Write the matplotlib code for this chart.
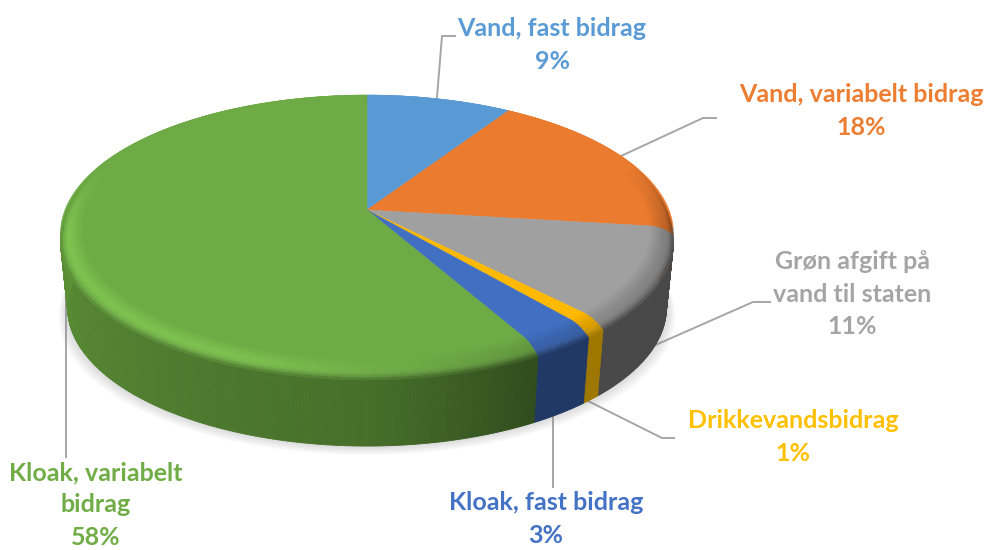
import numpy as np
import matplotlib
matplotlib.use("Agg")
import matplotlib.pyplot as plt
from matplotlib.collections import PolyCollection
from matplotlib.colors import to_rgb

# shares, clockwise from 12 o'clock
names = ["Vand, fast bidrag", "Vand, variabelt bidrag", "Grøn afgift på\nvand til staten",
         "Drikkevandsbidrag", "Kloak, fast bidrag", "Kloak, variabelt\nbidrag"]
shares = [9, 18, 11, 1, 3, 58]
top_colors = ["#5A9AD4", "#EB7B2E", "#A0A0A0", "#FFB900", "#4170C2", "#6EAA46"]
side_colors = ["#2E4F6C", "#6E3A17", "#484848", "#9E7700", "#1F3864", "#2F4A1C"]
text_colors = ["#5B9BD5", "#ED7D31", "#A5A5A5", "#FFC000", "#4472C4", "#70AD47"]
label_pos = [(552, 45), (861, 111), (852, 294), (793, 437), (546, 519), (96, 505)]

# leader lines in picture pixels
leaders = [
    [(437, 97), (442, 36), (455, 36)],
    [(621, 156), (703, 118), (716, 118)],
    [(651, 347), (753, 302), (770, 302)],
    [(588, 401), (662, 438), (674, 438)],
    [(553, 417), (553, 487)],
    [(66, 300), (66, 457)],
]

# projection of the disc
CX, CY = 367, 210
AX, AY = 302, 134.5
K = 0.17
DEPTH = 74
SHRINK = 0.977
BEVEL = 0.075
RIM_DROP = 8


def project(theta, r=1.0, drop=0.0, xs=1.0):
    t = np.radians(theta)
    X = r * np.sin(t)
    Y = r * np.cos(t)
    w = 1 + K * Y
    return np.column_stack([CX + xs * AX * X / w, CY - AY * Y / w + drop])


def front(theta):
    return np.clip((0.35 - np.cos(np.radians(theta))) / 0.5, 0, 1)


def scale(col, m):
    return tuple(np.clip(np.array(to_rgb(col)) * m, 0, 1))


def mix(a, b, t):
    return tuple(np.array(a) * (1 - t) + np.array(b) * t)


def wall_light(theta):
    return np.interp(theta, [90, 150, 180, 270], [1, 1, 1.5, 1.95])


fig = plt.figure(figsize=(9.88, 5.5), dpi=100)
ax = fig.add_axes([0, 0, 1, 1])
ax.set_xlim(0, 988)
ax.set_ylim(550, 0)
ax.axis("off")

edges = np.concatenate([[0], np.cumsum(shares)]) * 3.6

# soft shadow under the disc
ring = np.linspace(90, 285, 200)
for grow in np.linspace(15, 1, 12):
    base = project(ring, 1.0, DEPTH, SHRINK)
    base[:, 0] = CX + (base[:, 0] - CX) * (1 + grow / 500)
    base[:, 1] = base[:, 1] + grow * 0.6
    ax.fill(base[:, 0], base[:, 1], color="#7F7F7F", alpha=0.025, lw=0, zorder=1)

# side wall, one thin quad per step
for i, col in enumerate(side_colors):
    a, b = edges[i], edges[i + 1]
    a, b = max(a, 85), min(b, 280)
    if b <= a:
        continue
    th = np.linspace(a, b, max(int(b - a) * 2, 2) + 1)
    top = project(th, 1.0, RIM_DROP * front(th))
    bot = project(th, 1.0, DEPTH, SHRINK)
    quads, cols = [], []
    for j in range(len(th) - 1):
        quads.append([top[j], top[j + 1], bot[j + 1], bot[j]])
        cols.append(scale(col, wall_light(0.5 * (th[j] + th[j + 1]))))
    ax.add_collection(PolyCollection(quads, facecolors=cols, edgecolors=cols, linewidths=0.6, zorder=2))

# flat top of the slices
for i, col in enumerate(top_colors):
    th = np.linspace(edges[i], edges[i + 1], max(int(shares[i] * 4), 4))
    pts = np.vstack([[CX, CY], project(th)])
    ax.fill(pts[:, 0], pts[:, 1], color=col, lw=0.4, zorder=3)

# rounded rim between top and wall
steps = np.linspace(1 - BEVEL, 1.0, 13)
for i, col in enumerate(top_colors):
    th = np.linspace(edges[i], edges[i + 1], max(int(shares[i] * 8), 6))
    quads, cols = [], []
    for s in range(len(steps) - 1):
        t0 = s / (len(steps) - 1)
        t1 = (s + 1) / (len(steps) - 1)
        inner = project(th, steps[s], RIM_DROP * front(th) * t0 ** 2)
        outer = project(th, steps[s + 1], RIM_DROP * front(th) * t1 ** 2)
        t = 0.5 * (t0 + t1)
        for j in range(len(th) - 1):
            mid = 0.5 * (th[j] + th[j + 1])
            glow = np.interp(mid, [100, 150, 200, 270], [0.8, 0.88, 1.14, 1.16])
            wall = scale(side_colors[i], wall_light(mid))
            c = scale(col, 1 + (glow - 1) * min(t / 0.6, 1))
            if t > 0.65:
                c = mix(c, wall, ((t - 0.65) / 0.35) ** 2)
            c = mix(to_rgb(col), c, float(front(mid)))
            quads.append([inner[j], inner[j + 1], outer[j + 1], outer[j]])
            cols.append(c)
    ax.add_collection(PolyCollection(quads, facecolors=cols, edgecolors=cols, linewidths=0.3, zorder=4))

for pts in leaders:
    xs, ys = zip(*pts)
    ax.plot(xs, ys, color="#A6A6A6", lw=1.4, zorder=0.5, solid_joinstyle="miter")

for name, v, col, pos in zip(names, shares, text_colors, label_pos):
    ax.text(pos[0], pos[1], f"{name}\n{v}%", color=col, ha="center", va="center",
            family="Lato", weight="bold", fontsize=18, linespacing=1.5, zorder=6)

fig.savefig("out.png", dpi=100)
